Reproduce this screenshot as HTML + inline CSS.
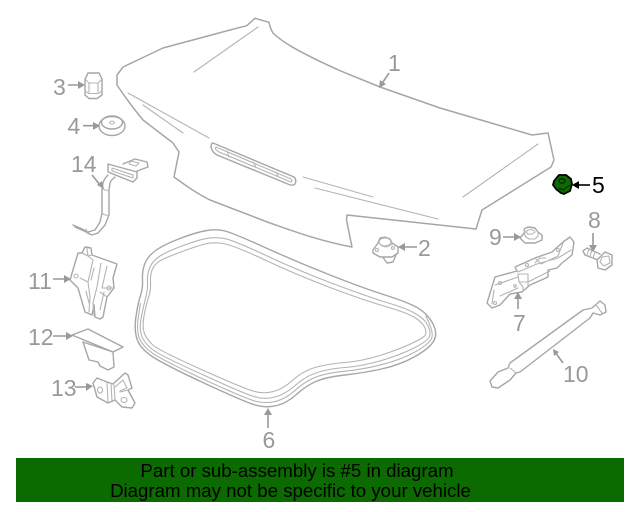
<!DOCTYPE html>
<html>
<head>
<meta charset="utf-8">
<style>
html,body{margin:0;padding:0;background:#fff}
body{width:640px;height:512px;overflow:hidden;position:relative}
svg{position:absolute;left:0;top:0}
#d{filter:blur(0.35px)}
.l{font-family:"Liberation Sans",sans-serif;font-size:23px;fill:#999}
.banner{font-family:"Liberation Sans",sans-serif;font-size:18.67px;fill:#000;text-anchor:middle}
.s{fill:none;stroke:#a6a6a6;stroke-width:1.4;stroke-linejoin:round;stroke-linecap:round}
.t{fill:none;stroke:#b4b4b4;stroke-width:1.1;stroke-linejoin:round;stroke-linecap:round}
.w{fill:#fff;stroke:#a6a6a6;stroke-width:1.4;stroke-linejoin:round}
.a{stroke:#999;stroke-width:1.6;fill:none}
.h{fill:#999;stroke:none}
</style>
</head>
<body>
<svg width="640" height="512" viewBox="0 0 640 512" xmlns="http://www.w3.org/2000/svg">
<rect x="16" y="458" width="608" height="44" fill="#0b6a00"/>
<text class="banner" x="297" y="477">Part or sub-assembly is #5 in diagram</text>
<text class="banner" x="290.500" y="497">Diagram may not be specific to your vehicle</text>
<g id="d">
<!-- hood -->
<path d="M246.700 25.700L255 18.300L269 22.300C270 27 271 30 273 33C278 38 284 42 291.700 46.700C308 56 325 64 340 70.700L380 87L440 108L532 135L548 133L554 160L551 167L482 210L476 229L347 215L346.500 220L352 247C320 241 296 232 270 223L210 200C196 193 185 185 174 177L179 152L173 143L143 120C133 108 125 97 117 85V75L123 67L163 48L230 30Z" fill="#fff" stroke="#a6a6a6" stroke-width="1.5" stroke-linejoin="round"/>
<path class="t" d="M258 27L194 72M128 93L209 138M143 105L183 133M303 177L373 197M315 188L438 219M538 144L463 197"/>
<path class="s" d="M213 143L294 177Q297 180 295 184Q293 186 289 184.500L217 155Q212 152 211 147Q211 143 213 143Z"/>
<path class="t" d="M216 147L291 179Q293 181 291 182L219 152Q214 149 216 147ZM227 151L229 157M253 162L256 167M276 172L278 176"/>

<!-- gasket -->
<path class="s" d="M207 230.500Q217 229 225 231Q233 233 265 247.500Q297 262 330 275Q363 288 385 295Q407 302 417 307.500Q427 313 432.500 323Q438 333 434 340.500Q430 348 415 356.500Q400 365 381.500 369Q363 373 345 375Q327 377 317 381Q307 385 297 394Q287 403 277 405.500Q267 408 257 405.500Q247 403 205 383.500Q163 364 151.500 356Q140 348 137 339Q134 330 136 316.500Q138 303 140.500 295.500Q143 288 142.500 280Q142 272 144.500 264.500Q147 257 155 251Q163 245 180 238.500Q197 232 207 230.500Z"/>
<path class="t" d="M206 238.600Q214.600 236.800 224 238.400Q233 240 265 255Q297 270 330 282.500Q363 295 385 302Q407.600 308.600 416 314Q425 319 428 326Q431.400 333 429 337.500Q426 342 413 348.500Q400 355 381.500 360.500Q363 366 345 367.500Q327 369 316 373Q305 376.600 295 385.600Q284.600 394.600 275 397Q265 399.600 255.500 397Q246 394.600 203.500 375Q161 356 152.500 349.500Q144 343 141.500 335.500Q139 328 141.500 316Q144 304 146 296.500Q148 289 147.500 281.500Q147 274 150 267Q153 260.600 160 256Q167 251.600 182 246Q197 240.400 206 238.600Z"/>
<path class="t" d="M205 244Q213 242 223 243.500Q233 245 265 260Q297 275 330 287.500Q363 300 385.500 306.500Q408 313 415.500 318Q423 323 425 328Q427 333 425 335.500Q423 338 411.500 343.500Q400 349 381.500 355Q363 361 345 362.500Q327 364 315 367.500Q303 371 293 380Q283 389 273.500 391.500Q264 394 254.500 391.500Q245 389 202.500 370Q160 351 153.500 345.500Q147 340 144.500 333.500Q142 327 144 316Q146 305 148.500 297.500Q151 290 150.500 282.500Q150 275 152.500 269Q155 263 162.500 259.500Q170 256 183.500 251Q197 246 205 244Z"/>
<path class="t" d="M425.800 316Q434.700 333 431.300 339Q427.900 345 414 352.500Q400 360 381.500 364.700Q363 369.400 345 371.200Q327 373 316.400 376.900Q305.800 380.800 295.800 389.800Q285.800 398.800 276 401.300Q266 403.800 256.200 401.400Q246.400 399 204 379.500Q162 360 152 352.800Q142 345.600 139 337.300Q136.400 329 138.400 316.300L140.400 303.600"/>

<!-- part 3 -->
<path class="s" d="M88 73L99 73L102 79V95L97 98.500H89L85 95V79Z"/>
<path class="t" d="M85 79L89 83H98L102 79M89 83V92M98 83V92M85 91L89 93.500H98L102 91"/>
<!-- part 4 -->
<ellipse class="w" cx="112" cy="126" rx="13" ry="9.500"/>
<ellipse class="s" cx="112" cy="122.500" rx="10.500" ry="6.500"/>
<ellipse class="t" cx="112" cy="122.500" rx="2.200" ry="1.500"/>
<!-- part 14 -->
<path class="s" d="M123 164L135 159L147 162L148 167L137 171"/>
<path class="t" d="M131 161L139 163L136 166L129 164Z"/>
<path class="w" d="M108 164L137 172V178L133 182L108 172Z"/>
<path class="t" d="M112 168L133 175V178L112 171Z"/>
<path class="s" d="M108 175Q104 179 103 183L102 188V213L100 222L95 230L88 232L80 228L73 225"/>
<path class="s" d="M115 177Q111 180 110 183L109 190V215L105 225L98 233L92 235L84 231L75 227"/>
<path class="t" d="M102 188Q105 191 109 190M102 213Q105 216 109 215M86 229L88 234"/>
<!-- part 11 -->
<path class="s" d="M85 247L91 248L92 255L117 264L113 278L114 288L107 297L103 317L100 319L95 317L94 305L92 315L85 312L78 288L70 280L78 253L82 253Z"/>
<path class="t" d="M82 253L88 256L87 248M88 256L92 255M88 256L93 260L88 282L90 297L89 312M101 263L97 287L93 303L94 316M107 266L102 288L113 288M80 278L88 282M94 268L91 280M100 292L107 297M104 292L100 310M86 291L89 303"/>
<circle class="t" cx="76" cy="276" r="2"/><circle class="t" cx="109" cy="288" r="2"/>
<!-- part 12 -->
<path class="w" d="M83 342L89 360L98 362L100 366L108 370L114 367L113 352Z"/>
<path class="w" d="M72 335L88 329L123 347L113 352Z"/>
<!-- part 13 -->
<path class="s" d="M93 383L97 378L107 382L113 384L125 373L128 375L132 388L128 390L135 403L132 408L122 407L115 400L108 403L97 397Z"/>
<path class="t" d="M107 382L108 402M111 383L112 401M114 385L115 400M115 387L123 380L127 388L120 391M120 392L128 390"/>
<ellipse class="t" cx="100" cy="390" rx="2.500" ry="3"/><ellipse class="t" cx="124" cy="400" rx="3" ry="2.500"/>

<!-- part 2 -->
<path class="w" d="M382 256L387 263L393 262L396 255Z"/>
<path class="w" d="M373 250L378 243L380 238L385 237L390 239L392 243L398 247V253L392 257H380L373 253Z"/>
<ellipse class="t" cx="385" cy="242" rx="6" ry="4"/>
<path class="t" d="M379 243Q385 250 392 244"/>
<circle class="t" cx="393" cy="248" r="1.500"/><circle class="t" cx="377" cy="250" r="1.500"/>

<!-- part 5 -->
<path d="M561 193L564 194L570 191L572 184L571 179L566 175L559 175L554 181L553 185L556 189Z" fill="#0b6a00" stroke="#000" stroke-width="1.800" stroke-linejoin="round"/>
<ellipse cx="562" cy="181" rx="3" ry="2.200" fill="none" stroke="#000" stroke-width="0.800"/>
<path d="M559 188L563 190L570 185" fill="none" stroke="#000" stroke-width="0.700"/>

<!-- part 9 -->
<path class="s" d="M520 238L525 232L524 229L528 227L535 228L538 232L542 235V240L535 243H525Z"/>
<path class="t" d="M524 229L525 236L529 239H535L538 236L538 232M528 230Q534 229 535 232Q532 235 528 234Q525 232 528 230Z"/>
<!-- part 8 -->
<path class="s" d="M587 248L583 251L585 255L598 260M587 248L600 254"/>
<path class="t" d="M589 249L587 255M592 250L590 256M595 252L593 258"/>
<path class="w" d="M597 260L605 252L612 255V265L605 270L598 268Z"/>
<path class="t" d="M602 257L609 256L610 263L604 266L600 262Z"/>
<!-- part 7 -->
<path class="s" d="M570 237L574 242L572 255L562 263L557 268L548 270V277L530 285L522 292L510 294L500 305L492 308L487 303L495 277L517 271L515 267L535 258L552 252L563 242Z"/>
<path class="t" d="M515 267L518 272L537 264L558 258L571 250M518 274H528V282H519ZM518 274L519 282L523 287V291M528 274V286M535 258L541 264L558 256L563 243M495 285L518 277M494 290L492 304M500 296L518 288M528 282L550 271M535 263L540 258L546 258"/>
<circle class="t" cx="500" cy="283" r="1.500"/><circle class="t" cx="495" cy="303" r="1.500"/><circle class="t" cx="527" cy="265" r="1.500"/><circle class="t" cx="558" cy="250" r="1.500"/><circle class="t" cx="515" cy="286" r="1.300"/>
<!-- part 10 -->
<path class="s" d="M510 363L583 310L592 308L600 301L605 305L606 312L600 315L593 313L590 318L520 372L516 373L510 380L498 388L492 387L490 381L498 372L508 368Z"/>
<path class="t" d="M596 305L602 313M510 368L516 373M508 368L510 363"/>

<!-- arrows -->
<g class="a">
<path d="M389 73L381 85M68 85H80M83 125.700H96M92 175L101 186M53 279H66M53 336H68M75 387H89M399 247H417M268 428V412M503 237H516M593 233V248M518 309V296M563 363L555 352"/>
</g>
<g class="h">
<path d="M379 88L380 80L386 84ZM85 85L78 81V89ZM100 125.700L93 122V130ZM104 189L97 185L102 181ZM71 279L64 275V283ZM73 336L66 332V340ZM93 386L86 383V391ZM398 247L405 243V251ZM268 408L264 415H272ZM521 237L514 233V241ZM593 252L589 245H597ZM518 292L514 299H522ZM553 349L559 352L554 356Z"/>
</g>
<path d="M590 185H577" stroke="#000" stroke-width="1.600"/>
<path d="M572 185L579 181V189Z" fill="#000"/>

<!-- labels -->
<text class="l" x="53" y="95">3</text>
<text class="l" x="67.500" y="134">4</text>
<text class="l" x="71" y="172">14</text>
<text class="l" x="28" y="289">11</text>
<text class="l" x="28" y="345">12</text>
<text class="l" x="51" y="396">13</text>
<text class="l" x="388" y="71">1</text>
<text class="l" x="418" y="256">2</text>
<text class="l" x="262.500" y="448">6</text>
<text class="l" x="489" y="245">9</text>
<text class="l" x="588" y="228">8</text>
<text class="l" x="513" y="331">7</text>
<text class="l" x="563" y="382">10</text>
<text class="l" x="592" y="193" style="fill:#000">5</text>
</g>
</svg>
</body>
</html>
